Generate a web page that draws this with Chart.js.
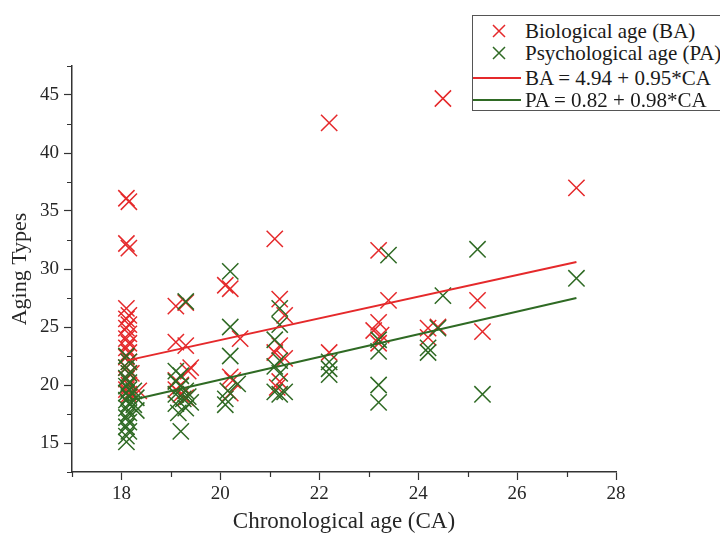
<!DOCTYPE html>
<html>
<head>
<meta charset="utf-8">
<script src="https://cdn.jsdelivr.net/npm/chart.js@4.4.1/dist/chart.umd.min.js"></script>
<style>
  html, body { margin:0; padding:0; background:#fff; overflow:hidden; }
  #wrap { position:relative; width:720px; height:536px; overflow:hidden; }
  #legend { position:absolute; left:472px; top:15px; width:260px; height:96px;
            border:1px solid #555; background:#fff; box-sizing:border-box;
            font-family:"Liberation Serif", "Times New Roman", serif; font-size:21px; color:#1a1a1a; }
  .row { position:absolute; left:0; height:22px; width:260px; }
  .row svg { position:absolute; left:0; top:0; }
  .row span { position:absolute; left:52px; top:0; line-height:22px; white-space:nowrap; }
</style>
</head>
<body>
<div id="wrap">
  <canvas id="c" width="720" height="536"></canvas>
  <div id="legend"></div>
</div>
<script>
// ---- data ----
const xTicks = [18, 20, 22, 24, 26, 28];
const yTicks = [15, 20, 25, 30, 35, 40, 45];

const baX = [18.1,18.15,18.1,18.15,18.1,18.15,18.1,18.15,18.1,18.15,18.1,18.15,18.1,18.15,18.1,18.15,18.1,18.15,18.1,18.15,18.1,18.15,18.35,18.2,
             19.1,19.3,19.1,19.3,19.4,19.35,19.1,19.2,19.1,19.2,19.3,
             20.1,20.2,20.4,20.2,20.25,20.2,
             21.1,21.2,21.3,21.2,21.1,21.3,21.2,21.15,
             22.2,22.2,
             23.2,23.4,23.2,23.1,23.25,23.2,
             24.5,24.2,24.2,24.4,
             25.2,25.3,
             27.2];
const baY = [36.1,35.8,32.2,31.8,26.6,26.0,25.7,25.2,24.9,24.4,24.0,23.6,23.2,22.8,22.4,22.0,21.5,21.0,20.5,20.0,19.6,19.2,19.5,21.0,
             26.8,27.1,23.7,23.4,21.5,21.2,20.4,20.0,19.6,19.2,18.9,
             28.6,28.3,24.0,20.7,20.4,19.3,
             32.6,27.4,26.0,23.4,22.8,22.3,20.3,19.8,
             42.6,22.8,
             31.6,27.3,25.4,24.7,24.3,23.6,
             44.7,24.9,24.1,25.0,
             27.3,24.6,
             37.0];
const paX = [18.1,18.15,18.1,18.15,18.1,18.15,18.1,18.15,18.1,18.15,18.1,18.15,18.1,18.15,18.1,18.15,18.1,18.15,18.1,18.1,18.25,18.3,18.25,18.3,
             19.1,19.2,19.1,19.2,19.3,19.1,19.25,19.1,19.3,19.15,19.2,19.3,19.35,19.4,
             20.2,20.2,20.2,20.35,20.15,20.1,20.1,
             21.2,21.2,21.1,21.2,21.1,21.2,21.1,21.2,21.3,
             22.2,22.2,22.2,
             23.4,23.2,23.2,23.2,23.2,
             24.5,24.4,24.2,24.2,
             25.2,25.3,
             27.2];
const paY = [22.5,22.0,21.5,21.0,20.6,20.2,19.9,19.6,19.3,19.0,18.7,18.4,18.0,17.6,17.2,16.8,16.4,16.0,15.6,15.1,19.5,18.9,18.3,17.8,
             21.2,20.8,20.3,19.9,19.5,19.2,18.8,18.4,18.0,17.6,16.0,27.2,19.0,18.5,
             29.8,25.0,22.5,20.1,19.5,18.8,18.3,
             26.6,25.2,23.9,22.1,21.6,21.0,19.4,19.2,19.4,
             22.0,21.4,20.9,
             31.2,23.9,22.9,20.0,18.5,
             27.7,24.9,23.2,22.8,
             31.7,19.2,
             29.2];
const baLineX = [18.1, 27.2];
const baLineY = [22.1, 30.6];
const paLineX = [18.1, 27.2];
const paLineY = [18.6, 27.5];
const legendLabels = ['Biological age (BA)', 'Psychological age (PA)', 'BA = 4.94 + 0.95*CA', 'PA = 0.82 + 0.98*CA'];

// ---- styles ----
const RED = '#e5292b';
const GREEN = '#2f6a24';
const AXIS = '#333333';
const FONT = '"Liberation Serif", "Times New Roman", serif';

const pts = (xs, ys) => xs.map((x, i) => ({x: x, y: ys[i]}));

const minorTicks = {
  id: 'minorTicks',
  afterDraw(chart) {
    const ctx = chart.ctx;
    const xs = chart.scales.x, ys = chart.scales.y;
    ctx.save();
    ctx.strokeStyle = AXIS;
    ctx.lineWidth = 1.2;
    ctx.beginPath();
    for (let v = 17; v <= 27; v += 2) {
      const px = Math.round(xs.getPixelForValue(v)) + 0.5;
      ctx.moveTo(px, xs.top); ctx.lineTo(px, xs.top + 5);
    }
    for (let v = 12.5; v <= 47.5; v += 5) {
      const py = Math.round(ys.getPixelForValue(v)) + 0.5;
      ctx.moveTo(ys.right, py); ctx.lineTo(ys.right - 5, py);
    }
    ctx.stroke();
    ctx.restore();
  }
};

new Chart(document.getElementById('c'), {
  type: 'scatter',
  data: {
    datasets: [
      { label: legendLabels[2], type: 'line', data: pts(baLineX, baLineY), borderColor: RED, borderWidth: 2,
        pointRadius: 0, fill: false, order: 0 },
      { label: legendLabels[3], type: 'line', data: pts(paLineX, paLineY), borderColor: GREEN, borderWidth: 2,
        pointRadius: 0, fill: false, order: 0 },
      { label: legendLabels[1], data: pts(paX, paY), pointStyle: 'crossRot', pointRadius: 11.5,
        borderColor: GREEN, backgroundColor: GREEN, pointBorderWidth: 1.5, order: 1 },
      { label: legendLabels[0], data: pts(baX, baY), pointStyle: 'crossRot', pointRadius: 11.5,
        borderColor: RED, backgroundColor: RED, pointBorderWidth: 1.5, order: 2 }
    ]
  },
  options: {
    responsive: false,
    animation: false,
    events: [],
    layout: { padding: { left: 0, right: 104, top: 66, bottom: 0 } },
    plugins: { legend: { display: false }, tooltip: { enabled: false } },
    scales: {
      x: {
        type: 'linear', min: 17, max: 28,
        afterBuildTicks: s => { s.ticks = xTicks.map(v => ({value: v})); },
        afterFit: s => { s.height = 64; },
        grid: { drawOnChartArea: false, drawTicks: true, tickLength: 8, color: AXIS, tickWidth: 1.2 },
        border: { display: true, color: AXIS, width: 1.5 },
        ticks: { color: '#262626', padding: 3, font: { family: FONT, size: 19 }, maxRotation: 0 },
        title: { display: true, text: 'Chronological age (CA)', color: '#262626',
                 font: { family: FONT, size: 23 }, padding: { top: 0, bottom: 0 } }
      },
      y: {
        type: 'linear', min: 12.5, max: 47.5,
        afterBuildTicks: s => { s.ticks = yTicks.map(v => ({value: v})); },
        afterFit: s => { s.width = 72; },
        grid: { drawOnChartArea: false, drawTicks: true, tickLength: 8, color: AXIS, tickWidth: 1.2 },
        border: { display: true, color: AXIS, width: 1.5 },
        ticks: { color: '#262626', padding: 5, font: { family: FONT, size: 19 } },
        title: { display: true, text: 'Aging Types', color: '#262626',
                 font: { family: FONT, size: 22 }, padding: { top: 7, bottom: 0 } }
      }
    }
  },
  plugins: [minorTicks]
});

// ---- legend (HTML) ----
const leg = document.getElementById('legend');
const rowTops = [4, 26, 51, 73];
const kinds = [['x', RED], ['x', GREEN], ['l', RED], ['l', GREEN]];
legendLabels.forEach((t, i) => {
  const r = document.createElement('div');
  r.className = 'row';
  r.style.top = rowTops[i] + 'px';
  const [k, c] = kinds[i];
  const sym = k === 'x'
    ? `<svg width="60" height="22"><path d="M20 5 L32 17 M32 5 L20 17" stroke="${c}" stroke-width="1.5" fill="none"/></svg>`
    : `<svg width="60" height="22"><path d="M0 11 L48 11" stroke="${c}" stroke-width="2" fill="none"/></svg>`;
  r.innerHTML = sym + `<span>${t}</span>`;
  leg.appendChild(r);
});
</script>
</body>
</html>
